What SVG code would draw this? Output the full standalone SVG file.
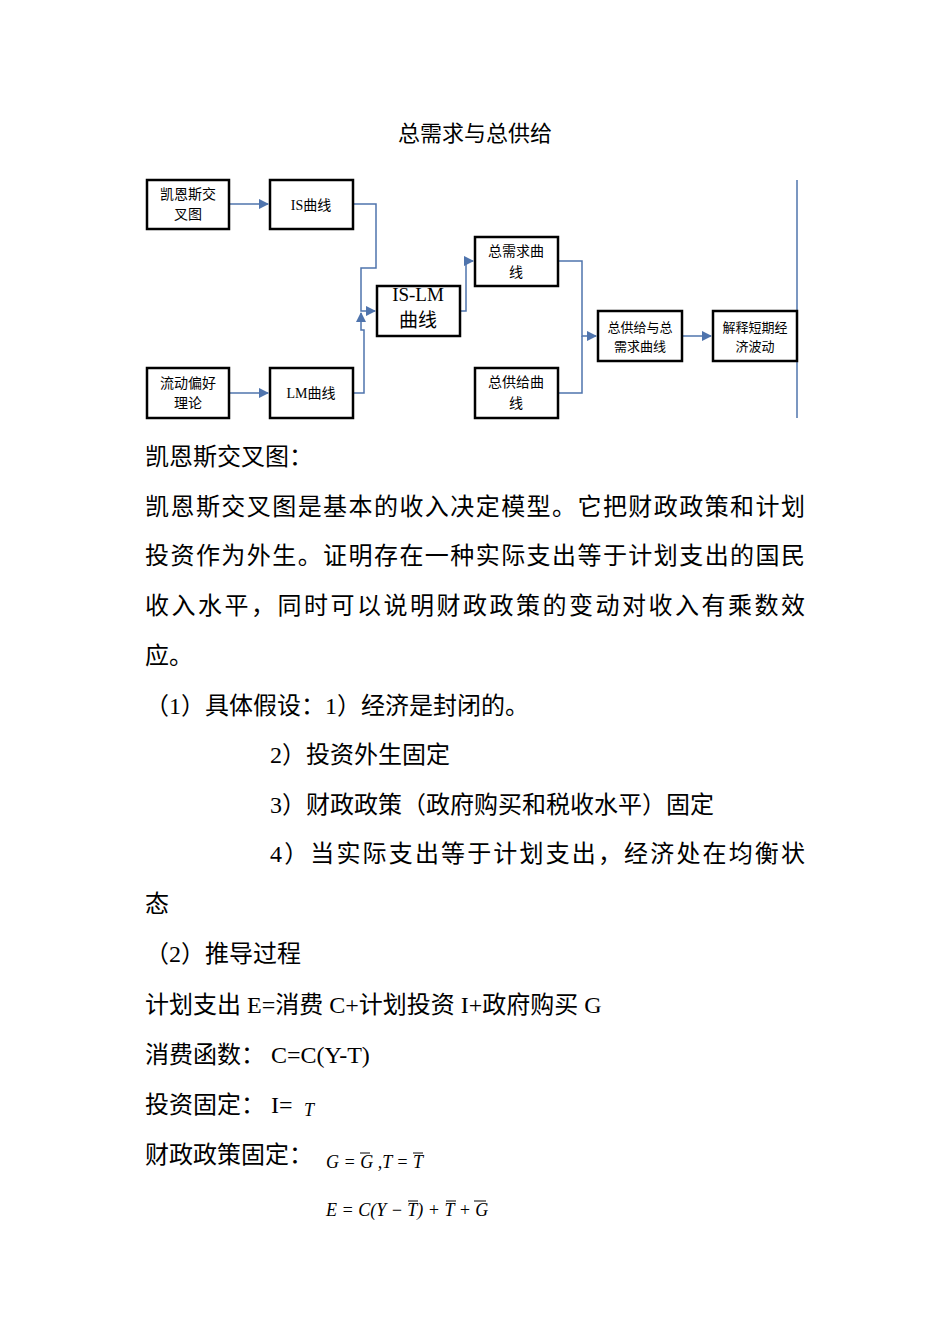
<svg xmlns="http://www.w3.org/2000/svg" width="950" height="1344" viewBox="0 0 950 1344">
<defs>
<style>
.b{fill:#fff;stroke:#000;stroke-width:2.5}
.t{font-family:"Liberation Serif","Noto Sans CJK SC",serif;font-size:14px;text-anchor:middle;fill:#000}
.p{font-family:"Liberation Serif","Noto Sans CJK SC",serif;font-size:24px;fill:#000}
.m{font-family:"Liberation Serif",serif;font-size:18px;font-style:italic;fill:#000}
.c{fill:none;stroke:#4f74ad;stroke-width:1.5}
</style>
<marker id="a" viewBox="0 0 10 10" refX="9" refY="5" markerWidth="7" markerHeight="7" orient="auto"><path d="M0,0L10,5L0,10z" fill="#4f74ad"/></marker>
</defs>
<rect width="950" height="1344" fill="#fff"/>
<text x="475" y="141" class="p" text-anchor="middle" style="font-size:22px">总需求与总供给</text>
<g id="connectors">
<path class="c" d="M229,204H268" marker-end="url(#a)"/>
<path class="c" d="M229,393H268" marker-end="url(#a)"/>
<path class="c" d="M353,204H376V268H361V311H375" marker-end="url(#a)"/>
<path class="c" d="M353,393H364V330H361V313" marker-end="url(#a)"/>
<path class="c" d="M460,311H466V261H473" marker-end="url(#a)"/>
<path class="c" d="M558,261H582V336H596" marker-end="url(#a)"/>
<path class="c" d="M558,393H582V336"/>
<path class="c" d="M682,336H711" marker-end="url(#a)"/>
<path d="M797,180V418" stroke="#4f74ad" stroke-width="1.5"/>
</g>
<g id="n1"><rect class="b" x="147" y="180" width="82" height="49"/><text class="t" x="188" y="199">凯恩斯交</text><text class="t" x="188" y="219">叉图</text></g>
<g id="n2"><rect class="b" x="270" y="180" width="83" height="49"/><text class="t" x="311" y="210">IS曲线</text></g>
<g id="n3"><rect class="b" x="147" y="368" width="82" height="50"/><text class="t" x="188" y="388">流动偏好</text><text class="t" x="188" y="408">理论</text></g>
<g id="n4"><rect class="b" x="270" y="368" width="83" height="50"/><text class="t" x="311" y="398">LM曲线</text></g>
<g id="n5"><rect class="b" x="377" y="286" width="83" height="50"/><text class="t" x="418" y="301" style="font-size:19px">IS-LM</text><text class="t" x="418" y="327" style="font-size:19px">曲线</text></g>
<g id="n6"><rect class="b" x="475" y="237" width="83" height="49"/><text class="t" x="516" y="256">总需求曲</text><text class="t" x="516" y="277">线</text></g>
<g id="n7"><rect class="b" x="475" y="368" width="83" height="50"/><text class="t" x="516" y="387">总供给曲</text><text class="t" x="516" y="408">线</text></g>
<g id="n8"><rect class="b" x="598" y="311" width="84" height="50"/><text class="t" x="640" y="332" style="font-size:13px">总供给与总</text><text class="t" x="640" y="351" style="font-size:13px">需求曲线</text></g>
<g id="n9"><rect class="b" x="713" y="311" width="84" height="50"/><text class="t" x="755" y="332" style="font-size:13px">解释短期经</text><text class="t" x="755" y="351" style="font-size:13px">济波动</text></g>
<g id="body">
<text class="p" x="145" y="465">凯恩斯交叉图：</text>
<text class="p" x="145" y="515" textLength="660" lengthAdjust="spacing">凯恩斯交叉图是基本的收入决定模型。它把财政政策和计划</text>
<text class="p" x="145" y="564" textLength="660" lengthAdjust="spacing">投资作为外生。证明存在一种实际支出等于计划支出的国民</text>
<text class="p" x="145" y="614" textLength="660" lengthAdjust="spacing">收入水平，同时可以说明财政政策的变动对收入有乘数效</text>
<text class="p" x="145" y="664">应。</text>
<text class="p" x="145" y="714">（1）具体假设：1）经济是封闭的。</text>
<text class="p" x="270" y="763">2）投资外生固定</text>
<text class="p" x="270" y="813">3）财政政策（政府购买和税收水平）固定</text>
<text class="p" x="270" y="862" textLength="535" lengthAdjust="spacing">4）当实际支出等于计划支出，经济处在均衡状</text>
<text class="p" x="145" y="912">态</text>
<text class="p" x="145" y="962">（2）推导过程</text>
<text class="p" x="145" y="1013">计划支出 E=消费 C+计划投资 I+政府购买 G</text>
<text class="p" x="145" y="1063">消费函数：  C=C(Y-T)</text>
<text class="p" x="145" y="1113">投资固定：  I=</text><text class="m" x="304" y="1116">T</text>
<text class="p" x="145" y="1163">财政政策固定：</text>
<text class="m" x="326" y="1168">G = G ,T = T</text>
<path d="M360,1153h10M413,1153h10" stroke="#000" stroke-width="1"/>
<text class="m" x="326" y="1216">E = C(Y − T) + T + G</text>
<path d="M408,1201h10M446,1201h10M474,1201h12" stroke="#000" stroke-width="1"/>
</g>
</svg>
